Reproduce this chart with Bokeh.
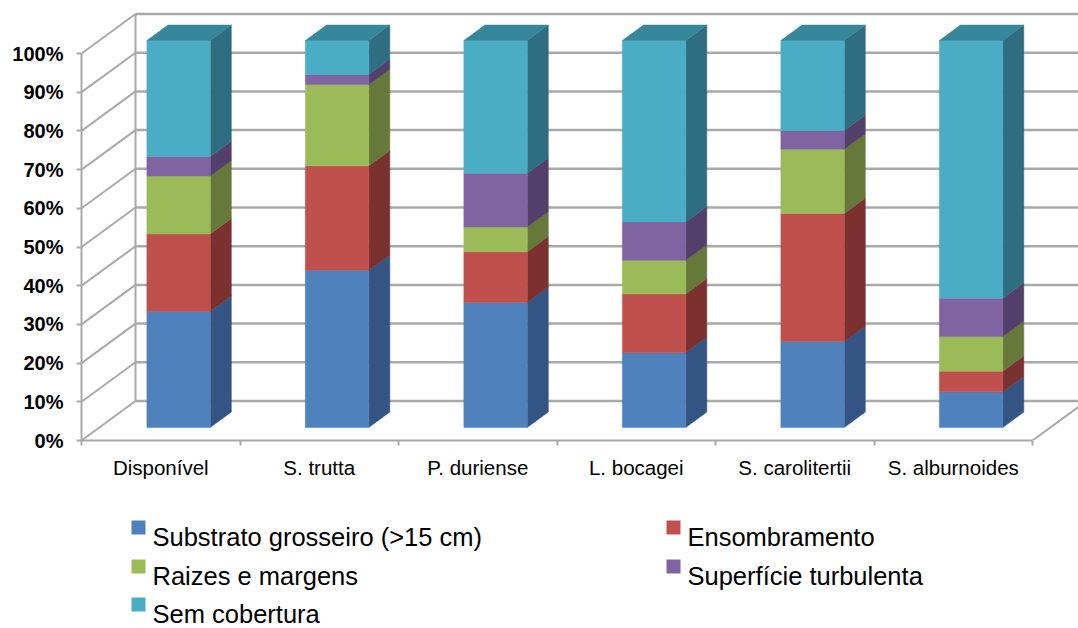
from bokeh.plotting import figure
from bokeh.models import Range1d, FixedTicker, PrintfTickFormatter, LinearAxis
from bokeh.layouts import column
from bokeh.core.properties import value
from bokeh.embed import file_html
from bokeh.resources import INLINE

# ---- data (percent of each category, stacked bottom -> top) ----
categories = ["Disponível", "S. trutta", "P. duriense", "L. bocagei",
              "S. carolitertii", "S. alburnoides"]
series_names = ["Substrato grosseiro (>15 cm)", "Ensombramento",
                "Raizes e margens", "Superfície turbulenta", "Sem cobertura"]
substrato = [30.0, 40.6, 32.3, 19.3, 22.2, 9.2]
ensombramento = [20.0, 27.0, 13.1, 15.2, 33.1, 5.3]
raizes = [15.0, 21.0, 6.4, 8.7, 16.6, 9.0]
superficie = [5.0, 2.6, 13.9, 9.9, 4.8, 9.9]
sem_cobertura = [30.0, 8.8, 34.3, 46.9, 23.3, 66.6]
y_ticks = [0, 10, 20, 30, 40, 50, 60, 70, 80, 90, 100]

series = [substrato, ensombramento, raizes, superficie, sem_cobertura]
front_colors = ["#4f81bd", "#c0504d", "#9bbb59", "#8064a2", "#4bacc6"]
side_colors = ["#345583", "#7b3130", "#66793a", "#52406a", "#2f6e80"]
top_color = "#37879b"

FONT = value("Liberation Sans")

# ---- pseudo-3D geometry (category units / percent units) ----
PX_PER_CAT = 158.5
PX_PER_PCT = 3.87
LEFT_BORDER = 81
DEPTH_X = 54 / PX_PER_CAT      # horizontal shift of the back wall
DEPTH_Y = 39.5 / PX_PER_PCT    # vertical shift of the back wall
BAR_W = 0.40                   # bar width, category units
BAR_POS = 0.33                 # depth of the bar front face (0 = front, 1 = back)
BAR_DEPTH = 0.39               # bar thickness as fraction of full depth
N = len(categories)

p = figure(width=1078, height=490,
           x_range=Range1d(0, (1078 - LEFT_BORDER) / PX_PER_CAT),
           y_range=Range1d(0, 440 / PX_PER_PCT),
           x_axis_type=None, y_axis_type=None,
           output_backend="svg", toolbar_location=None,
           min_border_left=LEFT_BORDER, min_border_right=0,
           min_border_top=0, min_border_bottom=50)
p.outline_line_color = None
p.background_fill_color = "white"
p.border_fill_color = "white"

GRID = "#a9a9a9"

# back wall gridlines
p.multi_line(xs=[[DEPTH_X, N + DEPTH_X] for t in y_ticks],
             ys=[[t + DEPTH_Y, t + DEPTH_Y] for t in y_ticks],
             line_color=GRID, line_width=2.5)
# left wall diagonals
p.multi_line(xs=[[0, DEPTH_X] for t in y_ticks],
             ys=[[t, t + DEPTH_Y] for t in y_ticks],
             line_color=GRID, line_width=2)
# wall / floor edges
p.multi_line(xs=[[DEPTH_X, DEPTH_X], [N, N + DEPTH_X]],
             ys=[[DEPTH_Y, y_ticks[-1] + DEPTH_Y], [0, DEPTH_Y]],
             line_color=GRID, line_width=2)

# ---- bars ----
bx0 = BAR_POS * DEPTH_X
by0 = BAR_POS * DEPTH_Y
sdx = BAR_DEPTH * DEPTH_X
sdy = BAR_DEPTH * DEPTH_Y

for s, vals in enumerate(series):
    left, right, bottom, top = [], [], [], []
    side_xs, side_ys = [], []
    for i in range(N):
        lo = sum(series[k][i] for k in range(s))
        hi = lo + vals[i]
        x0 = i + 0.5 - BAR_W / 2 + bx0
        x1 = x0 + BAR_W
        left.append(x0)
        right.append(x1)
        bottom.append(lo + by0)
        top.append(hi + by0)
        side_xs.append([x1, x1 + sdx, x1 + sdx, x1])
        side_ys.append([lo + by0, lo + by0 + sdy, hi + by0 + sdy, hi + by0])
    p.patches(xs=side_xs, ys=side_ys, fill_color=side_colors[s],
              line_color=side_colors[s], line_width=0.5)
    p.quad(left=left, right=right, bottom=bottom, top=top,
           fill_color=front_colors[s], line_color=front_colors[s],
           line_width=0.5)

# lids on top of the stacks
lid_xs, lid_ys = [], []
for i in range(N):
    total = sum(series[k][i] for k in range(len(series)))
    x0 = i + 0.5 - BAR_W / 2 + bx0
    x1 = x0 + BAR_W
    yb = total + by0
    lid_xs.append([x0, x1, x1 + sdx, x0 + sdx])
    lid_ys.append([yb, yb, yb + sdy, yb + sdy])
p.patches(xs=lid_xs, ys=lid_ys, fill_color=top_color,
          line_color=top_color, line_width=0.5)

# ---- axes ----
yaxis = LinearAxis(ticker=FixedTicker(ticks=y_ticks),
                   formatter=PrintfTickFormatter(format="%d%%"),
                   bounds=(y_ticks[0], y_ticks[-1]))
yaxis.axis_line_color = GRID
yaxis.axis_line_width = 2
yaxis.major_tick_line_color = GRID
yaxis.major_tick_line_width = 2
yaxis.major_tick_out = 5
yaxis.major_tick_in = 0
yaxis.minor_tick_line_color = None
yaxis.major_label_standoff = 13
yaxis.major_label_text_font = "Liberation Sans"
yaxis.major_label_text_font_style = "bold"
yaxis.major_label_text_font_size = "20px"
yaxis.major_label_text_color = "black"
p.add_layout(yaxis, "left")

centers = [i + 0.5 for i in range(N)]
xaxis = LinearAxis(ticker=FixedTicker(ticks=centers,
                                      minor_ticks=list(range(N + 1))),
                   bounds=(0, N))
xaxis.major_label_overrides = {c: name for c, name in zip(centers, categories)}
xaxis.axis_line_color = GRID
xaxis.axis_line_width = 2
xaxis.major_tick_line_color = None
xaxis.major_tick_out = 0
xaxis.major_tick_in = 0
xaxis.minor_tick_line_color = GRID
xaxis.minor_tick_line_width = 2
xaxis.minor_tick_out = 5
xaxis.minor_tick_in = 0
xaxis.major_label_standoff = 10
xaxis.major_label_text_font = "Liberation Sans"
xaxis.major_label_text_font_size = "20.5px"
xaxis.major_label_text_color = "black"
p.add_layout(xaxis, "below")

# ---- legend panel (page pixel coordinates, frame aligned with the chart) ----
lg = figure(width=1078, height=138, x_range=Range1d(LEFT_BORDER, 1078),
            y_range=Range1d(138, 0), x_axis_type=None, y_axis_type=None,
            output_backend="svg", toolbar_location=None,
            min_border_left=LEFT_BORDER, min_border_right=0,
            min_border_top=0, min_border_bottom=0)
lg.outline_line_color = None
lg.xgrid.visible = False
lg.ygrid.visible = False

col_x = [131, 666]
row_y = [30, 69, 107]
KEY = 14
key_l, key_t, txt_x, txt_y = [], [], [], []
for k in range(len(series_names)):
    cx = col_x[k % 2]
    ry = row_y[k // 2]
    key_l.append(cx)
    key_t.append(ry)
    txt_x.append(cx + 21)
    txt_y.append(ry + 16)
lg.quad(left=key_l, right=[v + KEY for v in key_l],
        top=key_t, bottom=[v + KEY for v in key_t],
        fill_color=front_colors, line_color=None)
lg.text(x=txt_x, y=txt_y, text=series_names, text_font=FONT,
        text_font_size="25.5px", text_baseline="alphabetic",
        text_align="left", text_color="black")

layout = column(p, lg, spacing=0)
open("out.html", "w").write(file_html(layout, INLINE))
